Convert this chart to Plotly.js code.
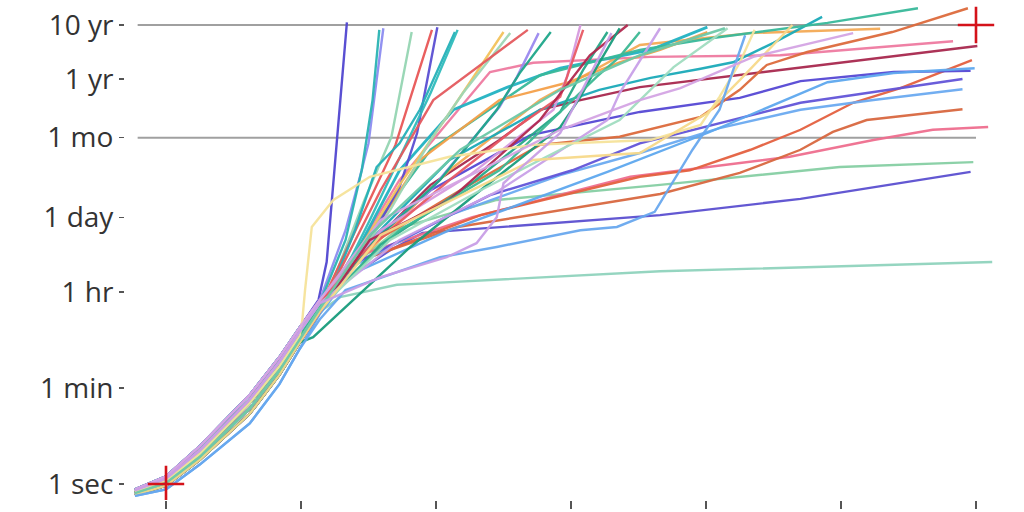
<!DOCTYPE html>
<html>
<head>
<meta charset="utf-8">
<script src="https://cdn.plot.ly/plotly-3.0.1.min.js"></script>
<style>html,body{margin:0;padding:0;background:#fff;}#chart{width:1024px;height:512px;}</style>
</head>
<body>
<div id="chart"></div>
<script>
// y values are log10(seconds); x in axis units (ticks at 0..6)
const tickVals = [1, 60, 3600, 86400, 2592000, 31536000, 315360000];
const tickText = ['1 sec', '1 min', '1 hr', '1 day', '1 mo', '1 yr', '10 yr'];
const xTicks = [0, 1, 2, 3, 4, 5, 6];

const earlyX = [-0.23, 0, 0.25, 0.62, 0.84, 0.99];
const earlyA = [-0.10, 0.14, 0.70, 1.65, 2.35, 2.90];
const earlyB = [-0.15, 0.06, 0.56, 1.50, 2.18, 2.74];
const earlyC = [-0.20, -0.03, 0.45, 1.30, 2.02, 2.62];
const earlyD = [-0.12, 0.10, 0.62, 1.56, 2.26, 2.82];
const earlyE = [-0.17, 0.02, 0.50, 1.40, 2.10, 2.68];
const earlyF = [-0.22, -0.10, 0.36, 1.12, 1.85, 2.50];

const variants = ['c','b','d','b','c','e','a','b','d','f','c','a','b','d','a','e','c','b',
  'a','b','a','d','b','e','a','c','b','d','e','c','b','a','d','e','c','c','b','d','e','b','c','f','a','e','d'];

const colors = ['#8fd3bd','#5b4fd0','#86cfa3','#ee6e8e','#d8673f','#e4603f','#6aaaf0','#5548d4','#6254d8','#5ea8ee',
  '#a8284e','#ee7aa0','#f3aa55','#22b2c2','#1aaab8','#38b89a','#f4a04a','#dc6a3c',
  '#5046d0','#8c8cf0','#2ab3b3','#95d5b2','#e85656','#5a4ed2','#25b0b8','#2fbcbc','#f2c25c','#9ed6b4','#e45a5e',
  '#9a88ee','#1fa68a','#d69ade','#e85a64','#25a888','#b0284e','#189c7c','#3cb894','#c8a0e8','#a0dcc0',
  '#f6e39a','#f7d98a','#68a8ee','#d4a4e4','#6cc8a8','#c89ee6'];

const tailX = [
  [1.14, 1.29, 1.71, 1.96, 3.66, 6.12],
  [1.14, 1.33, 1.66, 1.90, 3.66, 4.70, 5.24, 5.96],
  [1.14, 1.36, 1.73, 2.45, 3.66, 4.99, 5.98],
  [1.14, 1.44, 2.27, 3.44, 3.66, 4.62, 5.24, 5.68, 6.09],
  [1.14, 1.40, 2.16, 3.66, 4.25, 4.70, 4.94, 5.19, 5.49, 5.90],
  [1.14, 1.36, 2.33, 3.51, 3.88, 4.33, 4.70, 5.09, 5.44, 5.97],
  [1.14, 1.33, 2.10, 2.92, 3.51, 4.10, 4.70, 5.24, 5.90],
  [1.14, 1.36, 1.96, 2.70, 3.51, 4.25, 4.70, 5.39, 5.96],
  [1.14, 1.33, 2.40, 3.01, 3.51, 4.70, 5.90],
  [1.14, 1.36, 2.10, 3.27, 4.01, 4.90, 5.39, 5.99],
  [1.14, 1.40, 1.96, 2.47, 2.77, 3.07, 3.51, 4.55, 6.01],
  [1.14, 1.36, 1.73, 2.10, 2.40, 2.72, 3.59, 4.55, 5.83],
  [1.14, 1.40, 2.10, 2.77, 3.51, 4.33, 5.29],
  [1.14, 1.36, 1.73, 2.13, 2.53, 2.92, 3.59, 4.01],
  [1.14, 1.44, 2.10, 2.77, 3.21, 3.59, 3.96, 4.20, 4.50, 4.86],
  [1.14, 1.36, 1.96, 2.77, 3.51, 4.05, 4.90, 5.57],
  [1.14, 1.40, 1.88, 2.47, 2.97, 3.36, 3.66, 4.01],
  [1.14, 1.44, 2.18, 2.77, 3.36, 3.96, 4.25, 4.45, 4.75, 5.38, 5.94],
  [1.13, 1.19, 1.24, 1.34],
  [1.14, 1.33, 1.44, 1.50, 1.56, 1.61],
  [1.14, 1.33, 1.45, 1.53, 1.58],
  [1.21, 1.47, 1.67, 1.82],
  [1.18, 1.44, 1.70, 1.97],
  [1.14, 1.29, 1.51, 1.73, 1.86, 2.01],
  [1.21, 1.40, 1.56, 1.73, 1.88, 2.14],
  [1.14, 1.29, 1.51, 1.76, 1.96, 2.16],
  [1.14, 1.36, 1.73, 2.08, 2.25, 2.50],
  [1.14, 1.33, 1.66, 1.96, 2.20, 2.55],
  [1.14, 1.29, 1.59, 1.98, 2.18, 2.68],
  [1.14, 1.44, 1.96, 2.47, 2.60, 2.76],
  [1.14, 1.51, 2.03, 2.45, 2.62, 2.85],
  [1.14, 1.59, 2.25, 2.87, 2.97, 3.07],
  [1.14, 1.44, 2.10, 2.62, 2.92, 2.99, 3.09],
  [1.14, 1.59, 2.25, 2.92, 3.09, 3.27],
  [1.14, 1.51, 2.10, 2.77, 3.14, 3.42],
  [1.09, 1.81, 2.33, 2.92, 3.07, 3.19, 3.36],
  [1.14, 1.73, 2.47, 3.19, 3.36, 3.51],
  [1.14, 1.73, 2.47, 3.27, 3.36, 3.51, 3.66],
  [1.14, 1.66, 2.33, 2.92, 3.36, 3.76, 4.16],
  [1.01, 1.03, 1.08, 1.24, 1.51, 2.10, 2.72, 3.59, 3.96, 4.10, 4.25, 4.36],
  [1.14, 1.59, 2.72, 3.51, 3.76, 4.01, 4.25, 4.64],
  [1.14, 1.33, 2.03, 2.45, 3.07, 3.34, 3.62, 3.90, 4.10, 4.29],
  [1.14, 1.59, 2.33, 2.92, 3.51, 3.81, 4.35, 5.09],
  [1.14, 1.51, 2.18, 2.92, 3.51, 4.14],
  [1.14, 1.59, 2.08, 2.30, 2.45, 2.50, 2.92, 3.30]
];

const tailY = [
  [3.19, 3.46, 3.69, 3.72, 3.94, 4.11],
  [3.31, 3.78, 4.33, 4.65, 4.98, 5.28, 5.50, 5.78],
  [3.35, 4.00, 4.74, 5.26, 5.54, 5.87, 5.96],
  [3.30, 4.24, 4.94, 5.69, 5.76, 6.06, 6.37, 6.56, 6.61],
  [3.20, 4.11, 4.76, 5.37, 5.76, 6.19, 6.52, 6.74, 6.83, 6.94],
  [3.25, 4.06, 4.98, 5.69, 5.81, 6.19, 6.56, 7.06, 7.33, 7.85],
  [3.41, 3.96, 4.98, 5.72, 6.13, 6.59, 6.93, 7.11, 7.31],
  [3.31, 4.11, 5.44, 6.46, 6.89, 7.15, 7.46, 7.63, 7.65],
  [3.35, 4.00, 5.35, 5.81, 6.31, 7.06, 7.50],
  [3.15, 3.87, 4.70, 5.78, 6.50, 7.44, 7.61, 7.70],
  [3.19, 4.15, 5.54, 6.37, 6.93, 7.11, 7.35, 7.67, 8.11],
  [3.41, 4.11, 5.63, 6.74, 7.63, 7.80, 7.91, 7.94, 8.20],
  [3.31, 4.06, 5.81, 7.11, 8.13, 8.35, 8.43],
  [3.35, 4.06, 5.81, 6.93, 7.35, 7.70, 8.04, 8.46],
  [3.41, 4.33, 6.00, 6.93, 7.30, 7.52, 7.69, 7.81, 8.17, 8.65],
  [3.25, 4.15, 6.19, 7.57, 8.04, 8.26, 8.54, 8.81],
  [3.19, 4.15, 6.00, 7.11, 7.43, 7.81, 8.04, 8.37],
  [3.31, 4.33, 5.44, 6.28, 6.43, 6.80, 7.30, 7.76, 8.00, 8.37, 8.81],
  [3.41, 4.11, 5.63, 8.55],
  [3.41, 4.70, 5.72, 6.31, 7.48, 8.44],
  [3.35, 4.52, 5.81, 7.11, 8.41],
  [3.59, 5.26, 6.43, 8.37],
  [3.50, 4.89, 6.28, 8.41],
  [3.25, 3.69, 4.52, 5.50, 6.50, 8.46],
  [3.50, 4.70, 5.87, 6.31, 6.93, 8.37],
  [3.19, 3.78, 4.89, 6.19, 7.24, 8.41],
  [3.31, 4.06, 5.54, 6.80, 7.43, 8.37],
  [3.35, 3.87, 5.07, 6.37, 7.24, 8.35],
  [3.25, 3.96, 5.44, 7.11, 7.48, 8.41],
  [3.19, 4.33, 5.44, 6.98, 7.54, 8.35],
  [3.31, 4.43, 5.63, 6.93, 7.61, 8.37],
  [3.41, 4.70, 5.72, 6.93, 7.54, 8.50],
  [3.35, 4.24, 5.63, 6.65, 7.17, 7.67, 8.41],
  [3.25, 4.43, 5.54, 6.89, 7.67, 8.37],
  [3.19, 4.52, 5.26, 6.74, 7.94, 8.50],
  [2.72, 4.39, 5.44, 6.61, 7.17, 7.72, 8.44],
  [3.31, 4.70, 5.81, 7.54, 7.91, 8.37],
  [3.35, 4.52, 5.44, 6.74, 7.24, 7.85, 8.44],
  [3.25, 4.52, 5.44, 6.19, 6.74, 7.72, 8.44],
  [3.04, 3.59, 4.76, 5.26, 5.69, 6.06, 6.28, 6.37, 6.65, 7.17, 7.80, 8.41],
  [3.19, 4.61, 6.00, 6.13, 6.50, 6.87, 7.48, 8.50],
  [3.05, 3.59, 4.20, 4.39, 4.70, 4.76, 5.04, 6.19, 6.93, 8.31],
  [3.41, 4.89, 5.81, 6.56, 7.11, 7.33, 7.91, 8.35],
  [3.25, 4.61, 6.19, 7.30, 7.94, 8.44],
  [3.35, 3.83, 4.20, 4.46, 4.94, 5.57, 6.50, 8.35]
];

// reference lines and markers
const refLineX = [-0.21, 6.0];
const refLineLevels = [315360000, 2592000];
const crossX = [0, 6];
const crossY = [1, 315360000];

const earlyMap = {a: earlyA, b: earlyB, c: earlyC, d: earlyD, e: earlyE, f: earlyF};
const traces = [];
refLineLevels.forEach(v => {
  traces.push({x: refLineX, y: [v, v], mode: 'lines', type: 'scatter',
    line: {color: '#a0a0a0', width: 2}, hoverinfo: 'skip'});
});
tailX.forEach((tx, i) => {
  const ey = earlyMap[variants[i]];
  const xs = earlyX.concat(tx);
  const ys = ey.concat(tailY[i]).map(v => Math.pow(10, v));
  traces.push({x: xs, y: ys, mode: 'lines', type: 'scatter',
    line: {color: colors[i], width: (i === 13 ? 2.8 : 2.4)}, opacity: 0.95, hoverinfo: 'skip'});
});
traces.push({x: crossX, y: crossY, mode: 'markers', type: 'scatter',
  marker: {symbol: 'cross-thin', size: 26, line: {color: '#d4121a', width: 2.6}}, hoverinfo: 'skip'});

const L = 125, R = 8, T = 0, B = 12;
const pxPerUnit = 135;
const layout = {
  width: 1024, height: 512,
  margin: {l: L, r: R, t: T, b: B, pad: 0},
  paper_bgcolor: '#ffffff', plot_bgcolor: '#ffffff',
  showlegend: false,
  xaxis: {
    range: [(L - 166) / pxPerUnit, (1024 - R - 166) / pxPerUnit],
    tickvals: xTicks, showticklabels: false,
    ticks: 'outside', ticklen: 8, tickwidth: 1.2, tickcolor: '#555',
    showgrid: false, zeroline: false, showline: false
  },
  yaxis: {
    type: 'log', range: [-0.296, 8.963],
    tickvals: tickVals, ticktext: tickText,
    ticks: 'outside', ticklen: 5, tickwidth: 1.2, tickcolor: '#555',
    tickfont: {family: 'Open Sans, sans-serif', size: 28, color: '#333333'},
    showgrid: false, zeroline: false, showline: false
  },
  hovermode: false
};
Plotly.newPlot('chart', traces, layout, {staticPlot: true, displayModeBar: false});
</script>
</body>
</html>
